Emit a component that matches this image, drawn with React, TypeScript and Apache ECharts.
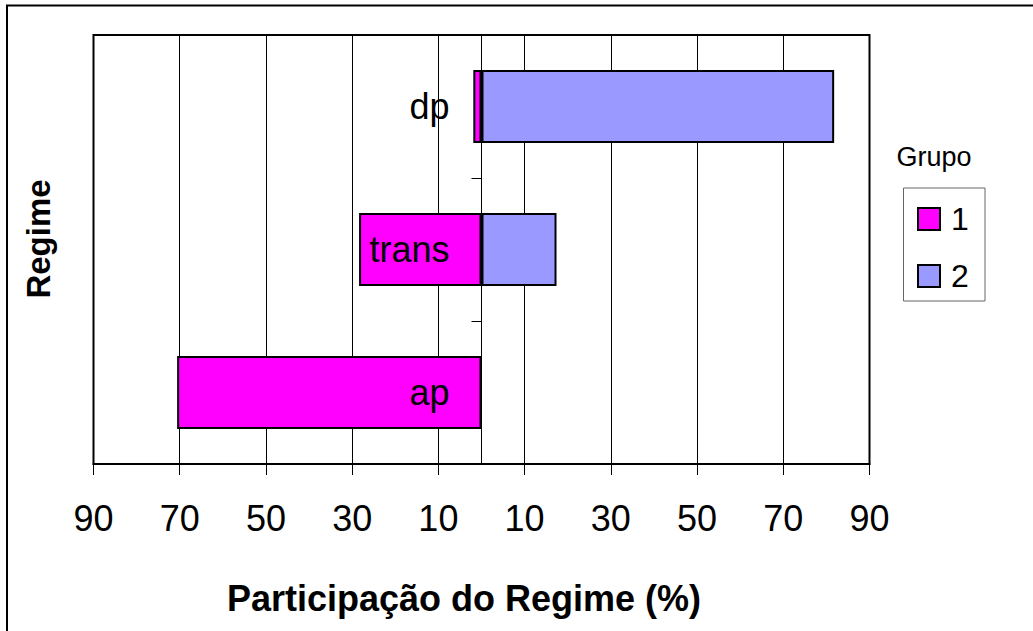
import React, { useEffect, useRef } from "react";
import * as echarts from "echarts";

// Categories (bottom to top on the y axis)
const categories = ["ap", "trans", "dp"];
// Participation (%) per group
const group1 = [70.6, 28.4, 1.9];
const group2 = [0, 17.4, 81.8];
const seriesNames = ["1", "2"];
// Axis: shifted so that the centre (0 %) sits at CENTER
const CENTER = 90;
const AXIS_MAX = 180;
const AXIS_STEP = 20;
const xTickLabels = ["90", "70", "50", "30", "10", "10", "30", "50", "70", "90"];

const FONT = "'Liberation Sans', Arial, Helvetica, sans-serif";

export default function App() {
  const ref = useRef<HTMLDivElement>(null);

  useEffect(() => {
    if (!ref.current) return;
    const chart = echarts.init(ref.current, null, { renderer: "svg" });
    const base = group1.map((v) => CENTER - v);
    const option: any = {
      animation: false,
      backgroundColor: "#fff",
      textStyle: { fontFamily: FONT },
      grid: {
        left: 93.5,
        top: 35,
        width: 776,
        height: 429,
        show: true,
        borderColor: "#000",
        borderWidth: 2,
        backgroundColor: "transparent",
      },
      legend: {
        data: seriesNames,
        orient: "vertical",
        left: 917,
        top: 203,
        itemWidth: 22,
        itemHeight: 22,
        itemGap: 25,
        icon: "rect",
        padding: 0,
        itemStyle: { borderColor: "#000", borderWidth: 2 },
        textStyle: {
          fontFamily: FONT,
          fontSize: 32,
          lineHeight: 32,
          color: "#000",
          padding: [0, 0, 0, 6],
        },
      },
      xAxis: {
        type: "value",
        min: 0,
        max: AXIS_MAX,
        interval: AXIS_STEP,
        axisLine: { show: true, lineStyle: { color: "#000", width: 2 } },
        axisTick: { show: true, length: 11, lineStyle: { color: "#000", width: 1 } },
        axisLabel: {
          fontFamily: FONT,
          fontSize: 36,
          color: "#000",
          margin: 36,
          formatter: (v: number) => xTickLabels[Math.round(v / AXIS_STEP)] ?? "",
        },
        splitLine: { show: true, lineStyle: { color: "#000", width: 1 } },
      },
      yAxis: {
        type: "category",
        data: categories,
        offset: -388,
        axisLine: { show: true, lineStyle: { color: "#000", width: 1 } },
        axisTick: { show: true, length: 10, lineStyle: { color: "#000", width: 1 } },
        axisLabel: {
          fontFamily: FONT,
          fontSize: 36,
          color: "#000",
          margin: 32,
        },
        splitLine: { show: false },
        z: 5,
      },
      series: [
        {
          name: "base",
          type: "bar",
          stack: "s",
          data: base,
          barWidth: 73,
          silent: true,
          itemStyle: { color: "transparent", borderWidth: 0 },
        },
        {
          name: seriesNames[0],
          type: "bar",
          stack: "s",
          data: group1,
          barWidth: 73,
          itemStyle: { color: "#FF00FF", borderColor: "#000", borderWidth: 2 },
        },
        {
          name: seriesNames[1],
          type: "bar",
          stack: "s",
          data: group2.map((v) => (v === 0 ? null : v)),
          barWidth: 73,
          itemStyle: { color: "#9999FF", borderColor: "#000", borderWidth: 2 },
        },
      ],
      graphic: [
        {
          type: "rect",
          shape: { x: 7, y: 5.5, width: 1100, height: 700 },
          style: { fill: "none", stroke: "#000", lineWidth: 2 },
          silent: true,
        },
        {
          type: "rect",
          shape: { x: 903.5, y: 188, width: 81.5, height: 113 },
          style: { fill: "none", stroke: "#666", lineWidth: 1 },
          silent: true,
        },
        {
          type: "text",
          x: 934,
          y: 157,
          style: {
            text: "Grupo",
            font: `27px ${FONT}`,
            fill: "#000",
            align: "center",
            verticalAlign: "middle",
          },
        },
        {
          type: "text",
          x: 464,
          y: 598,
          style: {
            text: "Participação do Regime (%)",
            font: `bold 36px ${FONT}`,
            fill: "#000",
            align: "center",
            verticalAlign: "middle",
          },
        },
        {
          type: "text",
          x: 38,
          y: 239,
          rotation: Math.PI / 2,
          style: {
            text: "Regime",
            font: `bold 33px ${FONT}`,
            fill: "#000",
            align: "center",
            verticalAlign: "middle",
          },
        },
      ],
    };
    chart.setOption(option);
    return () => chart.dispose();
  }, []);

  return (
    <div
      ref={ref}
      style={{ position: "absolute", left: 0, top: 0, width: 1033, height: 631 }}
    />
  );
}
